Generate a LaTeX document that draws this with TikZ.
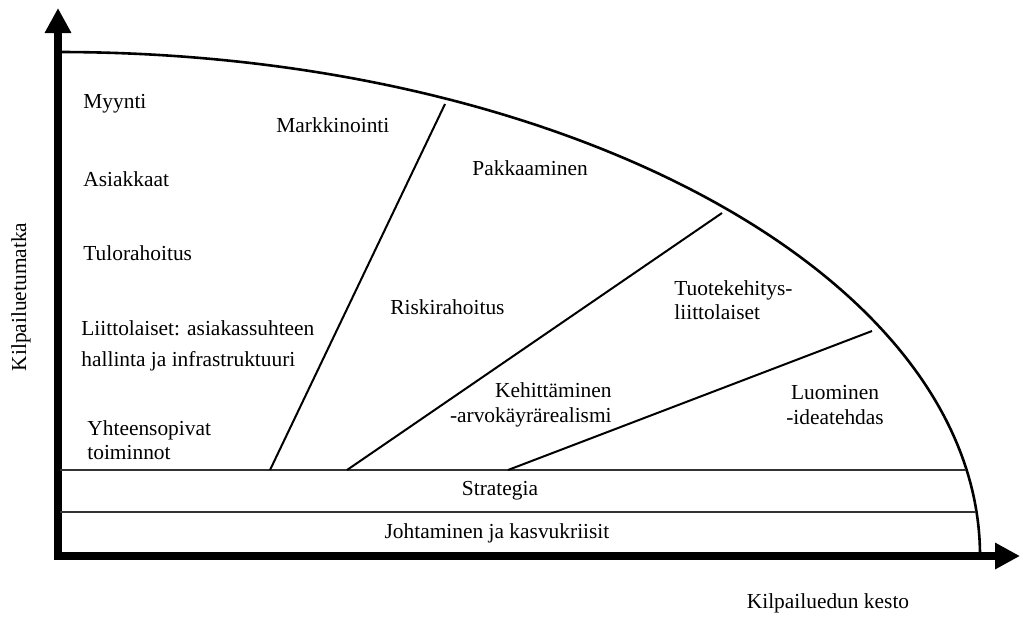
\documentclass[tikz,border=0pt]{standalone}
\usepackage{fontspec}
\setmainfont{Liberation Serif}
\usetikzlibrary{arrows.meta}

\begin{document}
\begin{tikzpicture}[
    x=0.5pt, y=-0.5pt,
    lbl/.style={font=\fontsize{10.7}{12.2}\selectfont, inner sep=0pt},
    axis/.style={line width=3.6pt, line join=miter,
                 {Triangle[length=12.5pt,width=12.5pt]}-{Triangle[length=12.5pt,width=12.5pt]}},
    edge/.style={line width=1.3pt},
    sep/.style={line width=1pt},
    band/.style={line width=0.9pt, draw=black!80}
]
\useasboundingbox (0,0) rectangle (1021,617);

% axes and the quarter ellipse
\coordinate (o) at (58,556);
\coordinate (ytip) at (58,8);
\coordinate (xtip) at (1020,556);
\draw[edge] (58,52) arc[start angle=-90, end angle=0, x radius=922, y radius=504];
\draw[axis] (ytip) -- (o) -- (xtip);

% bands at the bottom
\coordinate (s1) at (60,470);  \coordinate (s2) at (966,470);
\coordinate (j1) at (60,512);  \coordinate (j2) at (976,512);
\draw[band] (s1) -- (s2);
\draw[band] (j1) -- (j2);

% dividing lines
\coordinate (a1) at (270,470); \coordinate (a2) at (445,104);
\coordinate (b1) at (347,470); \coordinate (b2) at (722,213);
\coordinate (c1) at (508,470); \coordinate (c2) at (872,331);
\draw[sep] (a1) -- (a2);
\draw[sep] (b1) -- (b2);
\draw[sep] (c1) -- (c2);

% texts
\node[lbl, anchor=west] (myynti) at (83,104) {Myynti};
\node[lbl, anchor=west] (asiakkaat) at (83,179) {Asiakkaat};
\node[lbl, anchor=west] (tulo) at (83,253) {Tulorahoitus};
\node[lbl, anchor=west, align=left] (liitto) at (81,346)
    {Liittolaiset: asiakassuhteen\\[3.6pt]hallinta ja infrastruktuuri};
\node[lbl, anchor=west, align=left] (yhteen) at (87,440) {Yhteensopivat\\toiminnot};
\node[lbl, anchor=west] (markk) at (276,125) {Markkinointi};
\node[lbl, anchor=west] (pakk) at (472,168) {Pakkaaminen};
\node[lbl, anchor=west] (riski) at (390,307) {Riskirahoitus};
\node[lbl, anchor=west, align=left] (tuote) at (674,300) {Tuotekehitys-\\liittolaiset};
\node[lbl, anchor=east, align=right] (kehit) at (612,405) {Kehittäminen\\-arvokäyrärealismi};
\node[lbl, align=center] (luom) at (835,405) {Luominen\\-ideatehdas};
\node[lbl] (strat) at (500,491) {Strategia};
\node[lbl] (johto) at (497,533) {Johtaminen ja kasvukriisit};
\node[lbl, rotate=90] (ylab) at (21,297) {Kilpailuetumatka};
\node[lbl] (xlab) at (828,603) {Kilpailuedun kesto};

\end{tikzpicture}
\end{document}
